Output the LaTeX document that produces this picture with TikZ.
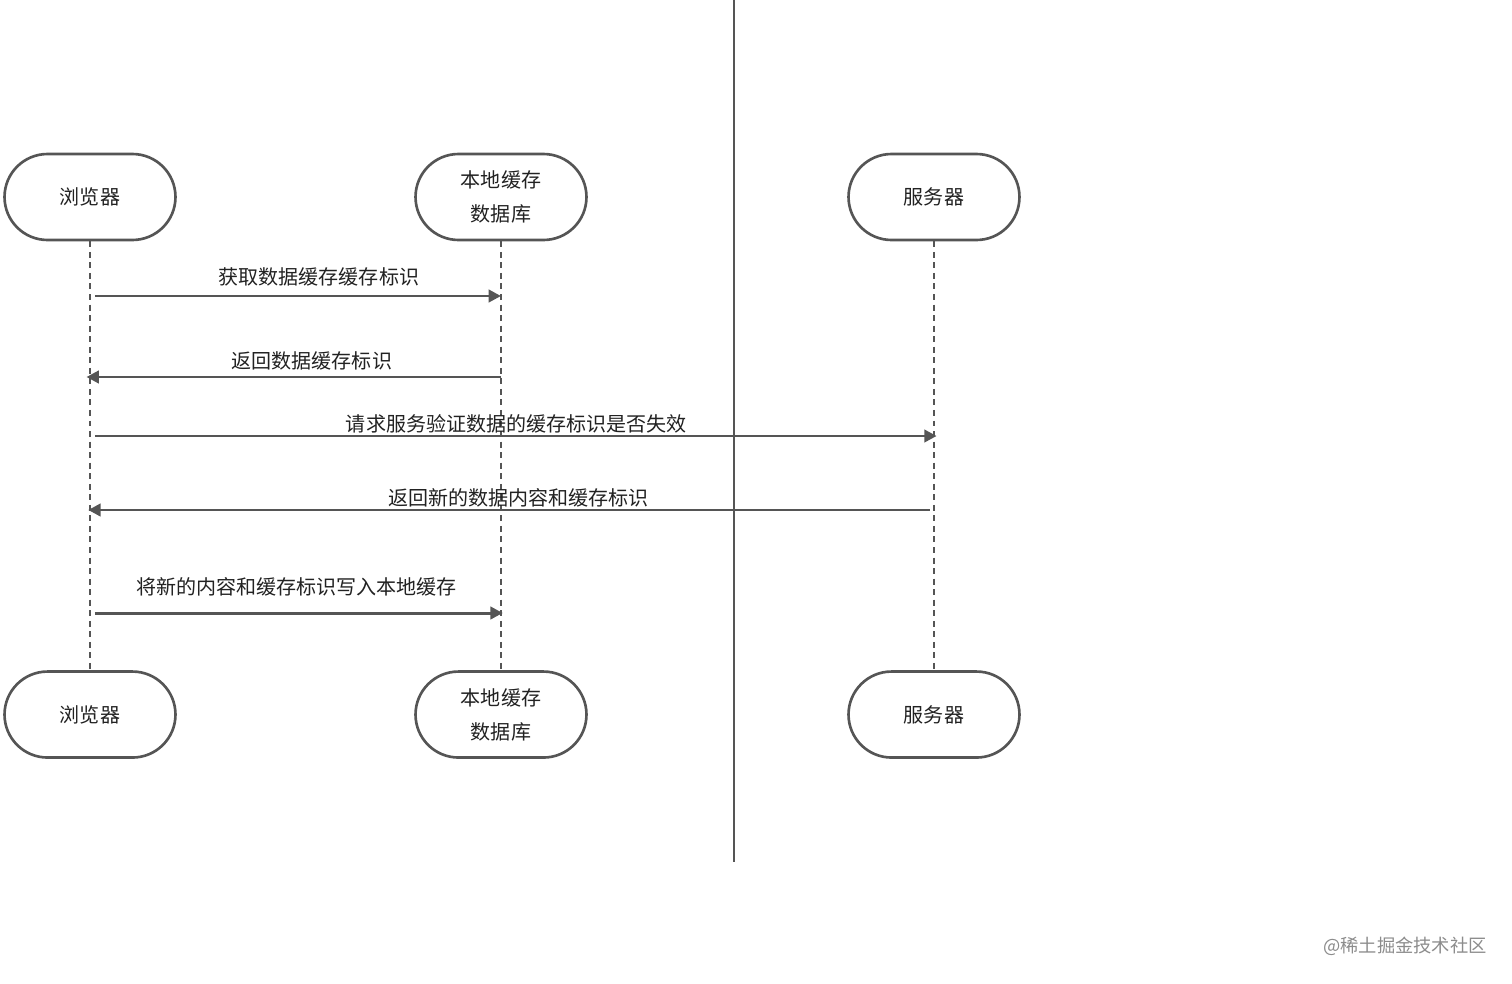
\documentclass[tikz,border=0pt]{standalone}
\usepackage{fontspec}
\newfontfamily\cjk{Noto Sans CJK SC}
\usepackage{xcolor}
\usepackage{tikz}
\usetikzlibrary{arrows.meta, positioning, shapes.misc}
\definecolor{linegray}{HTML}{555555}
\definecolor{txtgray}{HTML}{222222}

\begin{document}
\begin{tikzpicture}[
  x=0.02cm, y=-0.02cm,
  actor/.style  ={rounded rectangle, draw=linegray, line width=1.5pt,
                  fill=white, minimum width=3.42cm, minimum height=1.72cm,
                  inner sep=0pt, align=center, text=txtgray,
                  font=\cjk\fontsize{11.4}{19.3}\selectfont},
  life/.style   ={draw=linegray, line width=1.3pt, dash pattern=on 3.4pt off 2.6pt},
  msg/.style    ={-{Triangle[length=7pt,width=7pt]}, draw=linegray, line width=1.7pt},
  lbl/.style    ={text=txtgray, font=\cjk\fontsize{11.4}{13}\selectfont, inner sep=0pt},
  wmark/.style  ={text=black!45, font=\cjk\fontsize{10.4}{12}\selectfont, inner sep=0pt}
]
\useasboundingbox[fill=white] (0,0) rectangle (1512,984);
% ---- Actors ----------------------------------------------------------------
\node[actor] (bT) at (90,197)  {浏览器};
\node[actor] (dT) at (501,197) {本地缓存\\数据库};
\node[actor] (sT) at (934,197) {服务器};
\node[actor, below=8.58cm of bT] (bB) {浏览器};
\node[actor, below=8.58cm of dT] (dB) {本地缓存\\数据库};
\node[actor, below=8.58cm of sT] (sB) {服务器};
% ---- Divider ---------------------------------------------------------------
\coordinate (divT) at (734,0);
\coordinate (divB) at (734,862);
\draw[linegray, line width=1.6pt] (divT) -- (divB);
% ---- Lifelines -------------------------------------------------------------
\draw[life] (bT.south) -- (bB.north);
\draw[life] (dT.south) -- (dB.north);
\draw[life] (sT.south) -- (sB.north);
% ---- Messages --------------------------------------------------------------
\coordinate (m1) at (0,296);
\coordinate (m2) at (0,377);
\coordinate (m3) at (0,436);
\coordinate (m4) at (0,510);
\coordinate (m5) at (0,613);
\draw[msg, shorten <=2.8pt] (bT |- m1) -- (dT |- m1)
  node[lbl, pos=0.557, yshift=0.38cm] (l1) {获取数据缓存缓存标识};
\draw[msg, shorten >=-2pt] (dT |- m2) -- (bT |- m2)
  node[lbl, pos=0.46, yshift=0.32cm] (l2) {返回数据缓存标识};
\draw[msg, shorten <=2.8pt, shorten >=-1.5pt] (bT |- m3) -- (sT |- m3)
  node[lbl, pos=0.505, yshift=0.24cm] (l3) {请求服务验证数据的缓存标识是否失效};
\draw[msg, shorten <=2.3pt, shorten >=-1pt] (sT |- m4) -- (bT |- m4)
  node[lbl, pos=0.492, yshift=0.24cm] (l4) {返回新的数据内容和缓存标识};
\draw[msg, shorten <=2.8pt, shorten >=-1pt] (bT |- m5) -- (dT |- m5)
  node[lbl, pos=0.503, yshift=0.52cm] (l5) {将新的内容和缓存标识写入本地缓存};
% ---- Watermark -------------------------------------------------------------
\node[wmark, anchor=east] (wm) at (1487,946) {@稀土掘金技术社区};
\end{tikzpicture}
\end{document}
